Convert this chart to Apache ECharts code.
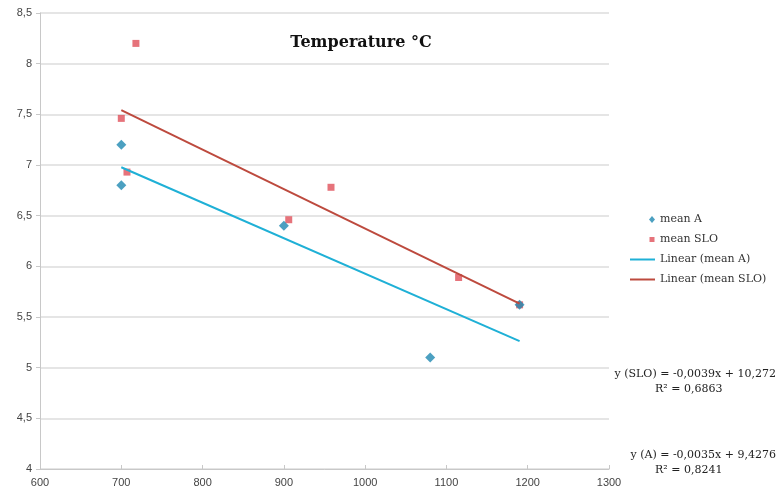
<!DOCTYPE html>
<html>
<head>
<meta charset="utf-8">
<script src="https://cdn.jsdelivr.net/npm/echarts@6/dist/echarts.min.js"></script>
<style>
  html, body { margin: 0; padding: 0; background: #fff; }
  #chart { width: 781px; height: 494px; }
</style>
</head>
<body>
<div id="chart"></div>
<script>
  // mean A (x = altitude, y = temperature)
  var meanAX = [700, 700, 900, 1080, 1190]
  var meanAY = [7.2, 6.8, 6.4, 5.1, 5.62]
  // mean SLO
  var meanSloX = [700, 718, 707, 906, 958, 1115, 1190]
  var meanSloY = [7.46, 8.2, 6.93, 6.46, 6.78, 5.89, 5.62]
  // trend line coefficients [slope, intercept]
  var fitA = [-0.0035, 9.4276]
  var fitSlo = [-0.0039, 10.272]
  var eqTexts = ['y (SLO) = -0,0039x + 10,272', 'R² = 0,6863', 'y (A) = -0,0035x + 9,4276', 'R² = 0,8241']

  function pairs(xs, ys) {
      var out = []
      for (var i = 0; i < xs.length; i++) out.push([xs[i], ys[i]])
      return out
  }

  function trend(xs, fit) {
      var lo = Math.min.apply(null, xs)
      var hi = Math.max.apply(null, xs)
      return [[lo, fit[0] * lo + fit[1]], [hi, fit[0] * hi + fit[1]]]
  }

  // legend icons: 25x10 box, the marks sit near the text
  var iconDiamond = 'path://M0,0M25,10M22,1.5L25,5L22,8.5L19,5Z'
  var iconSquare = 'path://M0,0M25,10M19.5,2.5L24.5,2.5L24.5,7.5L19.5,7.5Z'
  var iconLine = 'path://M0,0M25,10M0,4L25,4L25,6L0,6Z'

  var myChart = echarts.init(document.getElementById('chart'));
  var serif = 'DejaVu Serif';
  var eqFont = '11px "DejaVu Serif"';
  var option = {
      animation: false,
      title: {
          text: 'Temperature °C',
          left: 356,
          top: 30,
          textAlign: 'center',
          textStyle: { fontFamily: serif, fontWeight: 'bold', fontSize: 16, color: '#111' }
      },
      legend: {
          orient: 'vertical',
          left: 625,
          top: 209,
          itemGap: 9,
          itemWidth: 25,
          itemHeight: 10,
          textStyle: { fontFamily: serif, fontSize: 11, color: '#333' },
          data: [
              { name: 'mean A', icon: iconDiamond },
              { name: 'mean SLO', icon: iconSquare },
              { name: 'Linear (mean A)', icon: iconLine },
              { name: 'Linear (mean SLO)', icon: iconLine }
          ]
      },
      grid: { left: 40, right: 172, top: 13, bottom: 25 },
      xAxis: {
          type: 'value',
          min: 600,
          max: 1300,
          interval: 100,
          axisLine: { lineStyle: { color: '#c8c8c8' } },
          axisTick: { show: true, inside: true, length: 4, lineStyle: { color: '#c8c8c8' } },
          axisLabel: {
              color: '#444', fontSize: 11, fontFamily: 'Liberation Sans',
              formatter: function(v) { return String(v) }
          },
          splitLine: { show: false }
      },
      yAxis: {
          type: 'value',
          min: 4,
          max: 8.5,
          interval: 0.5,
          axisLine: { show: true, lineStyle: { color: '#c8c8c8' } },
          axisTick: { show: true, length: 4, lineStyle: { color: '#c8c8c8' } },
          axisLabel: {
              color: '#444', fontSize: 11, fontFamily: 'Liberation Sans', margin: 8,
              formatter: function(v) { return String(v).replace('.', ',') }
          },
          splitLine: { lineStyle: { color: '#dcdcdc', width: 1.5 } }
      },
      graphic: [
          { type: 'text', right: 5, top: 369, style: { text: eqTexts[0], font: eqFont, fill: '#222' } },
          { type: 'text', left: 655, top: 384, style: { text: eqTexts[1], font: eqFont, fill: '#222' } },
          { type: 'text', right: 5, top: 450, style: { text: eqTexts[2], font: eqFont, fill: '#222' } },
          { type: 'text', left: 655, top: 465, style: { text: eqTexts[3], font: eqFont, fill: '#222' } }
      ],
      series: [{
              name: 'mean SLO',
              type: 'scatter',
              symbol: 'rect',
              symbolSize: 7,
              itemStyle: { color: '#e0505a' },
              data: pairs(meanSloX, meanSloY),
              z: 2
          }, {
              name: 'mean A',
              type: 'scatter',
              symbol: 'diamond',
              symbolSize: 10,
              itemStyle: { color: '#1f88b2' },
              data: pairs(meanAX, meanAY),
              z: 3
          }, {
              name: 'Linear (mean A)',
              type: 'line',
              showSymbol: false,
              symbol: 'none',
              lineStyle: { color: '#1fb0d6', width: 2 },
              itemStyle: { color: '#1fb0d6' },
              data: trend(meanAX, fitA),
              z: 4
          }, {
              name: 'Linear (mean SLO)',
              type: 'line',
              showSymbol: false,
              symbol: 'none',
              lineStyle: { color: '#bd4a3e', width: 2 },
              itemStyle: { color: '#bd4a3e' },
              data: trend(meanSloX, fitSlo),
              z: 4
          }
      ]
  };
  myChart.setOption(option);
</script>
</body>
</html>
